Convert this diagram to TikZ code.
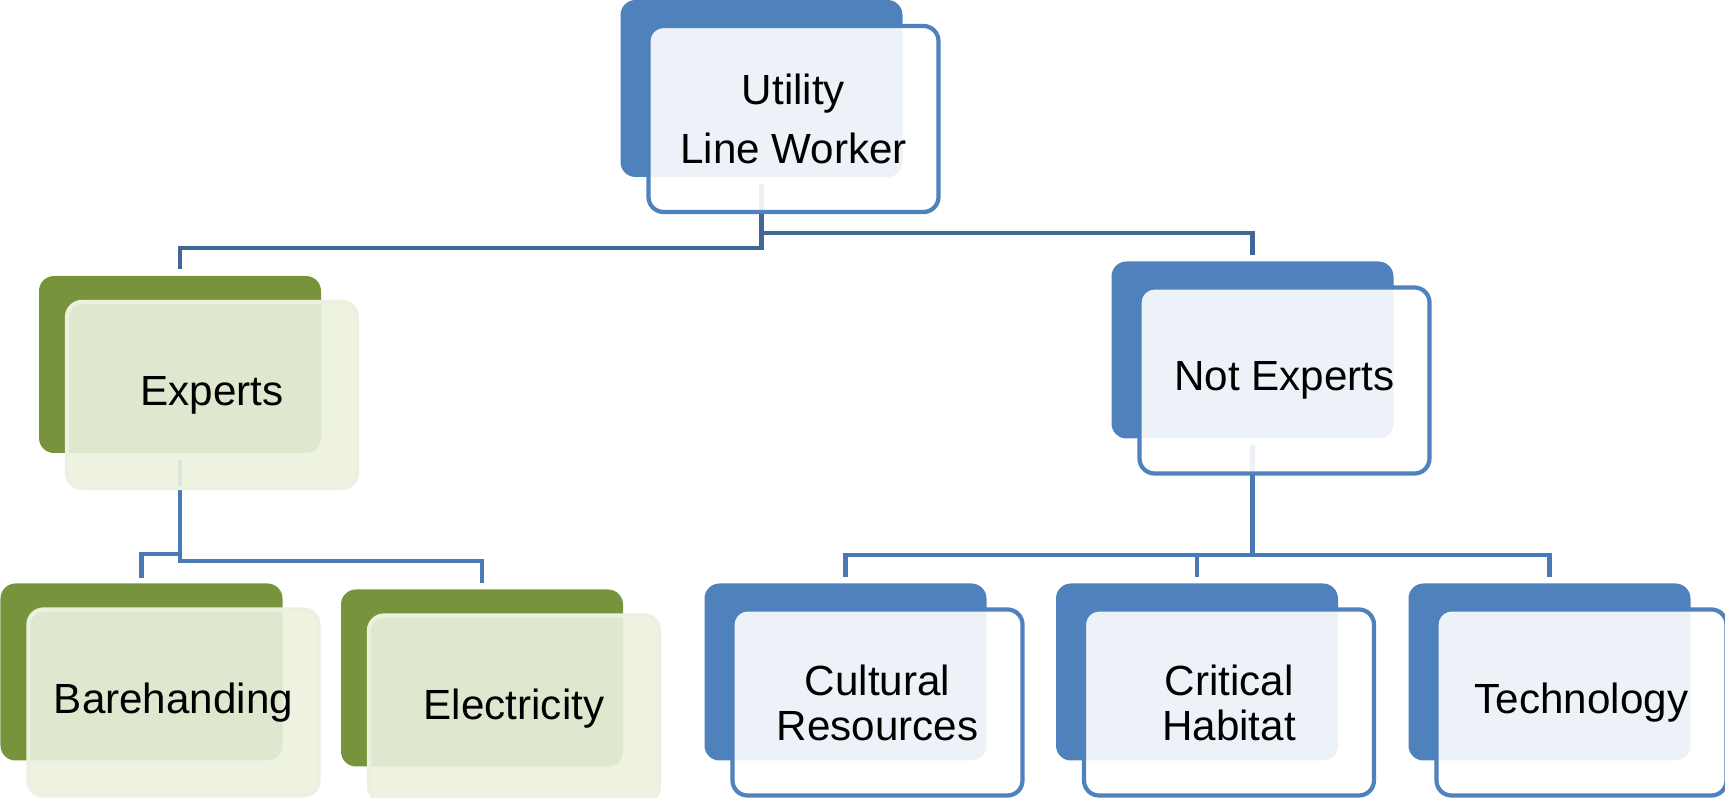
\documentclass[tikz,border=0pt]{standalone}
\usepackage{fontspec}
\setmainfont{Liberation Sans}
\definecolor{blueback}{HTML}{4F81BD}
\definecolor{greenback}{HTML}{77933C}
\definecolor{greenfront}{HTML}{EBF1DE}
\definecolor{linkdark}{HTML}{3F6898}
\definecolor{linklight}{HTML}{4A7AB6}
\tikzset{
	back/.style={rounded corners=0.15cm, minimum width=2.82cm, minimum height=1.77cm, inner sep=0pt},
	blueback/.style={back, fill=blueback},
	greenback/.style={back, fill=greenback},
	front/.style={rounded corners=0.15cm, minimum width=2.9cm, minimum height=1.86cm, inner sep=0pt,
		align=center, line width=1.2pt, text opacity=1, fill opacity=0.9, font=\fontsize{12}{12.8}\selectfont},
	bluefront/.style={front, draw=blueback, fill=white},
	greenfront/.style={front, draw=greenfront, fill=greenfront},
	toplink/.style={draw=linkdark, line width=1.2pt},
	sublink/.style={draw=linklight, line width=1.2pt}
}
\begin{document}
\begin{tikzpicture}
			\useasboundingbox (0,0) rectangle (17.25,-7.98);
			\node[blueback] (ulw) at (7.615,-0.885) {};
			\node[greenback] (exp) at (1.80,-3.645) {};
			\node[blueback] (nexp) at (12.525,-3.50) {};
			\node[greenback] (bare) at (1.415,-6.72) {};
			\node[greenback] (elec) at (4.82,-6.78) {};
			\node[blueback] (cult) at (8.455,-6.72) {};
			\node[blueback] (crit) at (11.97,-6.72) {};
			\node[blueback] (tech) at (15.495,-6.72) {};
			\draw[toplink] ([yshift=-0.06cm]ulw.south) -- ++(0,-0.64) -| ([yshift=0.06cm]exp.north);
			\draw[toplink] ([yshift=-0.06cm]ulw.south) -- ++(0,-0.49) -| ([yshift=0.06cm]nexp.north);
			\draw[sublink] ([yshift=-0.06cm]exp.south) -- ++(0,-0.94) -| ([yshift=0.05cm]bare.north);
			\draw[sublink] ([yshift=-0.06cm]exp.south) -- ++(0,-1.01) -| ([yshift=0.06cm]elec.north);
			\foreach \kid in {cult,crit,tech}
				\draw[sublink] ([yshift=-0.06cm]nexp.south) -- ++(0,-1.095) -| ([yshift=0.06cm]\kid.north);
			\node[bluefront, font=\fontsize{12}{17}\selectfont] (ulwtext) at ([shift={(0.32,-0.305)}]ulw.center) {Utility\\Line Worker};
			\node[greenfront] (exptext) at ([shift={(0.32,-0.305)}]exp.center) {Experts};
			\node[bluefront] (nexptext) at ([shift={(0.32,-0.305)}]nexp.center) {Not Experts};
			\node[greenfront] (baretext) at ([shift={(0.32,-0.305)}]bare.center) {Barehanding};
			\node[greenfront] (electext) at ([shift={(0.32,-0.305)}]elec.center) {Electricity};
			\node[bluefront] (culttext) at ([shift={(0.32,-0.305)}]cult.center) {Cultural\\Resources};
			\node[bluefront] (crittext) at ([shift={(0.32,-0.305)}]crit.center) {Critical\\Habitat};
			\node[bluefront] (techtext) at ([shift={(0.32,-0.305)}]tech.center) {Technology};
		\end{tikzpicture}
\end{document}
